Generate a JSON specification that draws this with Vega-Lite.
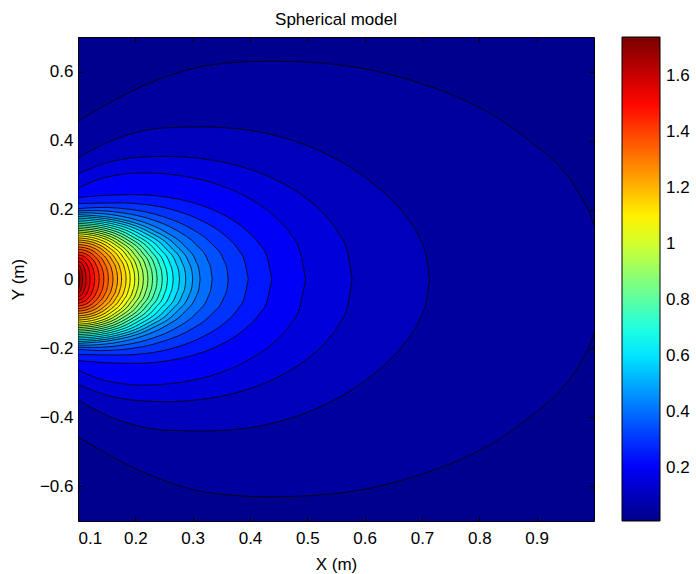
{
"$schema":"https://vega.github.io/schema/vega-lite/v6.json",
"width":516,"height":484,
"autosize":{"type":"none"},
"padding":{"left":78,"top":37,"right":102,"bottom":53},
"background":"white",
"title":{"text":"Spherical model","fontSize":17,"font":"Liberation Sans","fontWeight":"normal","color":"black","anchor":"middle","frame":"group","baseline":"bottom","offset":11,"dy":20},
"config":{
 "view":{"fill":"#00008F","stroke":null},
 "axis":{"labelFont":"Liberation Sans","labelFontSize":17,"labelColor":"black","titleFont":"Liberation Sans","titleFontSize":17,"titleFontWeight":"normal","titleColor":"black","tickColor":"black","tickWidth":1,"domainColor":"black","domainWidth":1,"grid":false,"zindex":1}
},
"data":{"values":[
{"L":0.05,"x":0.1,"hi":0.456,"lo":-0.456},{"L":0.05,"x":0.15,"hi":0.505,"lo":-0.505},{"L":0.05,"x":0.21,"hi":0.556,"lo":-0.556},{"L":0.05,"x":0.273,"hi":0.596,"lo":-0.596},{"L":0.05,"x":0.335,"hi":0.62,"lo":-0.62},{"L":0.05,"x":0.435,"hi":0.63,"lo":-0.63},{"L":0.05,"x":0.52,"hi":0.625,"lo":-0.625},{"L":0.05,"x":0.615,"hi":0.603,"lo":-0.603},{"L":0.05,"x":0.708,"hi":0.56,"lo":-0.56},{"L":0.05,"x":0.77,"hi":0.52,"lo":-0.52},{"L":0.05,"x":0.833,"hi":0.465,"lo":-0.465},{"L":0.05,"x":0.895,"hi":0.39,"lo":-0.39},{"L":0.05,"x":0.94,"hi":0.325,"lo":-0.325},{"L":0.05,"x":0.975,"hi":0.245,"lo":-0.245},{"L":0.05,"x":1.0,"hi":0.155,"lo":-0.155},{"L":0.05,"x":1.02,"hi":0,"lo":0},
{"L":0.1,"x":0.1,"hi":0.35,"lo":-0.35},{"L":0.1,"x":0.15,"hi":0.394,"lo":-0.394},{"L":0.1,"x":0.2,"hi":0.423,"lo":-0.423},{"L":0.1,"x":0.25,"hi":0.437,"lo":-0.437},{"L":0.1,"x":0.316,"hi":0.44,"lo":-0.44},{"L":0.1,"x":0.4,"hi":0.43,"lo":-0.43},{"L":0.1,"x":0.46,"hi":0.408,"lo":-0.408},{"L":0.1,"x":0.52,"hi":0.372,"lo":-0.372},{"L":0.1,"x":0.58,"hi":0.318,"lo":-0.318},{"L":0.1,"x":0.63,"hi":0.255,"lo":-0.255},{"L":0.1,"x":0.67,"hi":0.185,"lo":-0.185},{"L":0.1,"x":0.695,"hi":0.12,"lo":-0.12},{"L":0.1,"x":0.708,"hi":0.06,"lo":-0.06},{"L":0.1,"x":0.713,"hi":0,"lo":0},
{"L":0.15,"x":0.1,"hi":0.305,"lo":-0.305},{"L":0.15,"x":0.15,"hi":0.336,"lo":-0.336},{"L":0.15,"x":0.2,"hi":0.351,"lo":-0.351},{"L":0.15,"x":0.254,"hi":0.355,"lo":-0.355},{"L":0.15,"x":0.3,"hi":0.351,"lo":-0.351},{"L":0.15,"x":0.35,"hi":0.339,"lo":-0.339},{"L":0.15,"x":0.4,"hi":0.317,"lo":-0.317},{"L":0.15,"x":0.45,"hi":0.283,"lo":-0.283},{"L":0.15,"x":0.5,"hi":0.231,"lo":-0.231},{"L":0.15,"x":0.53,"hi":0.186,"lo":-0.186},{"L":0.15,"x":0.555,"hi":0.131,"lo":-0.131},{"L":0.15,"x":0.57,"hi":0.079,"lo":-0.079},{"L":0.15,"x":0.578,"hi":0,"lo":0},
{"L":0.2,"x":0.1,"hi":0.263,"lo":-0.263},{"L":0.2,"x":0.15,"hi":0.295,"lo":-0.295},{"L":0.2,"x":0.217,"hi":0.307,"lo":-0.307},{"L":0.2,"x":0.26,"hi":0.303,"lo":-0.303},{"L":0.2,"x":0.3,"hi":0.293,"lo":-0.293},{"L":0.2,"x":0.35,"hi":0.27,"lo":-0.27},{"L":0.2,"x":0.4,"hi":0.232,"lo":-0.232},{"L":0.2,"x":0.44,"hi":0.186,"lo":-0.186},{"L":0.2,"x":0.47,"hi":0.132,"lo":-0.132},{"L":0.2,"x":0.487,"hi":0.081,"lo":-0.081},{"L":0.2,"x":0.497,"hi":0,"lo":0},
{"L":0.25,"x":0.1,"hi":0.236,"lo":-0.236},{"L":0.25,"x":0.15,"hi":0.242,"lo":-0.242},{"L":0.25,"x":0.198,"hi":0.244,"lo":-0.244},{"L":0.25,"x":0.25,"hi":0.238,"lo":-0.238},{"L":0.25,"x":0.3,"hi":0.221,"lo":-0.221},{"L":0.25,"x":0.35,"hi":0.189,"lo":-0.189},{"L":0.25,"x":0.39,"hi":0.146,"lo":-0.146},{"L":0.25,"x":0.415,"hi":0.104,"lo":-0.104},{"L":0.25,"x":0.43,"hi":0.062,"lo":-0.062},{"L":0.25,"x":0.438,"hi":0,"lo":0},
{"L":0.3,"x":0.1,"hi":0.218,"lo":-0.218},{"L":0.3,"x":0.17,"hi":0.22,"lo":-0.22},{"L":0.3,"x":0.22,"hi":0.215,"lo":-0.215},{"L":0.3,"x":0.27,"hi":0.198,"lo":-0.198},{"L":0.3,"x":0.32,"hi":0.165,"lo":-0.165},{"L":0.3,"x":0.355,"hi":0.128,"lo":-0.128},{"L":0.3,"x":0.38,"hi":0.084,"lo":-0.084},{"L":0.3,"x":0.39,"hi":0.054,"lo":-0.054},{"L":0.3,"x":0.397,"hi":0,"lo":0},
{"L":0.35,"x":0.1,"hi":0.2035,"lo":-0.2035},{"L":0.35,"x":0.14,"hi":0.207,"lo":-0.207},{"L":0.35,"x":0.1975,"hi":0.2,"lo":-0.2},{"L":0.35,"x":0.251,"hi":0.179,"lo":-0.179},{"L":0.35,"x":0.297,"hi":0.146,"lo":-0.146},{"L":0.35,"x":0.332,"hi":0.1035,"lo":-0.1035},{"L":0.35,"x":0.3545,"hi":0.0536,"lo":-0.0536},{"L":0.35,"x":0.36,"hi":0.027,"lo":-0.027},{"L":0.35,"x":0.362,"hi":0,"lo":0},
{"L":0.4,"x":0.1,"hi":0.197,"lo":-0.197},{"L":0.4,"x":0.125,"hi":0.198,"lo":-0.198},{"L":0.4,"x":0.179,"hi":0.191,"lo":-0.191},{"L":0.4,"x":0.2295,"hi":0.1715,"lo":-0.1715},{"L":0.4,"x":0.2728,"hi":0.14,"lo":-0.14},{"L":0.4,"x":0.306,"hi":0.099,"lo":-0.099},{"L":0.4,"x":0.327,"hi":0.0513,"lo":-0.0513},{"L":0.4,"x":0.332,"hi":0.026,"lo":-0.026},{"L":0.4,"x":0.334,"hi":0,"lo":0},
{"L":0.45,"x":0.1,"hi":0.191,"lo":-0.191},{"L":0.45,"x":0.11,"hi":0.1915,"lo":-0.1915},{"L":0.45,"x":0.1626,"hi":0.185,"lo":-0.185},{"L":0.45,"x":0.2115,"hi":0.166,"lo":-0.166},{"L":0.45,"x":0.2535,"hi":0.1354,"lo":-0.1354},{"L":0.45,"x":0.2858,"hi":0.0958,"lo":-0.0958},{"L":0.45,"x":0.3061,"hi":0.0496,"lo":-0.0496},{"L":0.45,"x":0.3112,"hi":0.025,"lo":-0.025},{"L":0.45,"x":0.313,"hi":0,"lo":0},
{"L":0.5,"x":0.1,"hi":0.186,"lo":-0.186},{"L":0.5,"x":0.1684,"hi":0.1748,"lo":-0.1748},{"L":0.5,"x":0.2286,"hi":0.1425,"lo":-0.1425},{"L":0.5,"x":0.2732,"hi":0.093,"lo":-0.093},{"L":0.5,"x":0.2932,"hi":0.0482,"lo":-0.0482},{"L":0.5,"x":0.2989,"hi":0.0194,"lo":-0.0194},{"L":0.5,"x":0.3,"hi":0,"lo":0},
{"L":0.55,"x":0.1,"hi":0.181,"lo":-0.181},{"L":0.55,"x":0.1643,"hi":0.1701,"lo":-0.1701},{"L":0.55,"x":0.2209,"hi":0.1386,"lo":-0.1386},{"L":0.55,"x":0.2628,"hi":0.0905,"lo":-0.0905},{"L":0.55,"x":0.2816,"hi":0.0469,"lo":-0.0469},{"L":0.55,"x":0.287,"hi":0.0189,"lo":-0.0189},{"L":0.55,"x":0.288,"hi":0,"lo":0},
{"L":0.6,"x":0.1,"hi":0.176,"lo":-0.176},{"L":0.6,"x":0.1605,"hi":0.1654,"lo":-0.1654},{"L":0.6,"x":0.2138,"hi":0.1348,"lo":-0.1348},{"L":0.6,"x":0.2533,"hi":0.088,"lo":-0.088},{"L":0.6,"x":0.271,"hi":0.0456,"lo":-0.0456},{"L":0.6,"x":0.276,"hi":0.0184,"lo":-0.0184},{"L":0.6,"x":0.277,"hi":0,"lo":0},
{"L":0.65,"x":0.1,"hi":0.171,"lo":-0.171},{"L":0.65,"x":0.1568,"hi":0.1607,"lo":-0.1607},{"L":0.65,"x":0.2067,"hi":0.131,"lo":-0.131},{"L":0.65,"x":0.2438,"hi":0.0855,"lo":-0.0855},{"L":0.65,"x":0.2604,"hi":0.0443,"lo":-0.0443},{"L":0.65,"x":0.2651,"hi":0.0179,"lo":-0.0179},{"L":0.65,"x":0.266,"hi":0,"lo":0},
{"L":0.7,"x":0.1,"hi":0.166,"lo":-0.166},{"L":0.7,"x":0.1534,"hi":0.156,"lo":-0.156},{"L":0.7,"x":0.2003,"hi":0.1272,"lo":-0.1272},{"L":0.7,"x":0.2351,"hi":0.083,"lo":-0.083},{"L":0.7,"x":0.2507,"hi":0.043,"lo":-0.043},{"L":0.7,"x":0.2551,"hi":0.0173,"lo":-0.0173},{"L":0.7,"x":0.256,"hi":0,"lo":0},
{"L":0.75,"x":0.1,"hi":0.161,"lo":-0.161},{"L":0.75,"x":0.1503,"hi":0.1513,"lo":-0.1513},{"L":0.75,"x":0.1945,"hi":0.1233,"lo":-0.1233},{"L":0.75,"x":0.2273,"hi":0.0805,"lo":-0.0805},{"L":0.75,"x":0.242,"hi":0.0417,"lo":-0.0417},{"L":0.75,"x":0.2462,"hi":0.0168,"lo":-0.0168},{"L":0.75,"x":0.247,"hi":0,"lo":0},
{"L":0.8,"x":0.1,"hi":0.156,"lo":-0.156},{"L":0.8,"x":0.1472,"hi":0.1466,"lo":-0.1466},{"L":0.8,"x":0.1887,"hi":0.1195,"lo":-0.1195},{"L":0.8,"x":0.2195,"hi":0.078,"lo":-0.078},{"L":0.8,"x":0.2333,"hi":0.0404,"lo":-0.0404},{"L":0.8,"x":0.2372,"hi":0.0163,"lo":-0.0163},{"L":0.8,"x":0.238,"hi":0,"lo":0},
{"L":0.85,"x":0.1,"hi":0.151,"lo":-0.151},{"L":0.85,"x":0.1445,"hi":0.1419,"lo":-0.1419},{"L":0.85,"x":0.1836,"hi":0.1157,"lo":-0.1157},{"L":0.85,"x":0.2126,"hi":0.0755,"lo":-0.0755},{"L":0.85,"x":0.2256,"hi":0.0391,"lo":-0.0391},{"L":0.85,"x":0.2293,"hi":0.0158,"lo":-0.0158},{"L":0.85,"x":0.23,"hi":0,"lo":0},
{"L":0.9,"x":0.1,"hi":0.146,"lo":-0.146},{"L":0.9,"x":0.1417,"hi":0.1372,"lo":-0.1372},{"L":0.9,"x":0.1784,"hi":0.1118,"lo":-0.1118},{"L":0.9,"x":0.2057,"hi":0.073,"lo":-0.073},{"L":0.9,"x":0.2179,"hi":0.0378,"lo":-0.0378},{"L":0.9,"x":0.2213,"hi":0.0153,"lo":-0.0153},{"L":0.9,"x":0.222,"hi":0,"lo":0},
{"L":0.95,"x":0.1,"hi":0.141,"lo":-0.141},{"L":0.95,"x":0.139,"hi":0.1325,"lo":-0.1325},{"L":0.95,"x":0.1733,"hi":0.108,"lo":-0.108},{"L":0.95,"x":0.1987,"hi":0.0705,"lo":-0.0705},{"L":0.95,"x":0.2101,"hi":0.0365,"lo":-0.0365},{"L":0.95,"x":0.2134,"hi":0.0147,"lo":-0.0147},{"L":0.95,"x":0.214,"hi":0,"lo":0},
{"L":1.0,"x":0.1,"hi":0.136,"lo":-0.136},{"L":1.0,"x":0.1363,"hi":0.1278,"lo":-0.1278},{"L":1.0,"x":0.1682,"hi":0.1042,"lo":-0.1042},{"L":1.0,"x":0.1918,"hi":0.068,"lo":-0.068},{"L":1.0,"x":0.2024,"hi":0.0352,"lo":-0.0352},{"L":1.0,"x":0.2054,"hi":0.0142,"lo":-0.0142},{"L":1.0,"x":0.206,"hi":0,"lo":0},
{"L":1.05,"x":0.1,"hi":0.131,"lo":-0.131},{"L":1.05,"x":0.1339,"hi":0.1231,"lo":-0.1231},{"L":1.05,"x":0.1637,"hi":0.1003,"lo":-0.1003},{"L":1.05,"x":0.1857,"hi":0.0655,"lo":-0.0655},{"L":1.05,"x":0.1956,"hi":0.0339,"lo":-0.0339},{"L":1.05,"x":0.1985,"hi":0.0137,"lo":-0.0137},{"L":1.05,"x":0.199,"hi":0,"lo":0},
{"L":1.1,"x":0.1,"hi":0.125,"lo":-0.125},{"L":1.1,"x":0.1311,"hi":0.1175,"lo":-0.1175},{"L":1.1,"x":0.1585,"hi":0.0958,"lo":-0.0958},{"L":1.1,"x":0.1788,"hi":0.0625,"lo":-0.0625},{"L":1.1,"x":0.1879,"hi":0.0324,"lo":-0.0324},{"L":1.1,"x":0.1905,"hi":0.0131,"lo":-0.0131},{"L":1.1,"x":0.191,"hi":0,"lo":0},
{"L":1.15,"x":0.1,"hi":0.119,"lo":-0.119},{"L":1.15,"x":0.1287,"hi":0.1119,"lo":-0.1119},{"L":1.15,"x":0.154,"hi":0.0912,"lo":-0.0912},{"L":1.15,"x":0.1727,"hi":0.0595,"lo":-0.0595},{"L":1.15,"x":0.1811,"hi":0.0308,"lo":-0.0308},{"L":1.15,"x":0.1835,"hi":0.0124,"lo":-0.0124},{"L":1.15,"x":0.184,"hi":0,"lo":0},
{"L":1.2,"x":0.1,"hi":0.113,"lo":-0.113},{"L":1.2,"x":0.126,"hi":0.1062,"lo":-0.1062},{"L":1.2,"x":0.1489,"hi":0.0866,"lo":-0.0866},{"L":1.2,"x":0.1658,"hi":0.0565,"lo":-0.0565},{"L":1.2,"x":0.1734,"hi":0.0293,"lo":-0.0293},{"L":1.2,"x":0.1756,"hi":0.0118,"lo":-0.0118},{"L":1.2,"x":0.176,"hi":0,"lo":0},
{"L":1.25,"x":0.1,"hi":0.107,"lo":-0.107},{"L":1.25,"x":0.1236,"hi":0.1006,"lo":-0.1006},{"L":1.25,"x":0.1444,"hi":0.082,"lo":-0.082},{"L":1.25,"x":0.1598,"hi":0.0535,"lo":-0.0535},{"L":1.25,"x":0.1667,"hi":0.0277,"lo":-0.0277},{"L":1.25,"x":0.1686,"hi":0.0112,"lo":-0.0112},{"L":1.25,"x":0.169,"hi":0,"lo":0},
{"L":1.3,"x":0.1,"hi":0.1,"lo":-0.1},{"L":1.3,"x":0.1209,"hi":0.094,"lo":-0.094},{"L":1.3,"x":0.1392,"hi":0.0766,"lo":-0.0766},{"L":1.3,"x":0.1528,"hi":0.05,"lo":-0.05},{"L":1.3,"x":0.1589,"hi":0.0259,"lo":-0.0259},{"L":1.3,"x":0.1607,"hi":0.0105,"lo":-0.0105},{"L":1.3,"x":0.161,"hi":0,"lo":0},
{"L":1.35,"x":0.1,"hi":0.093,"lo":-0.093},{"L":1.35,"x":0.1181,"hi":0.0874,"lo":-0.0874},{"L":1.35,"x":0.1341,"hi":0.0712,"lo":-0.0712},{"L":1.35,"x":0.1459,"hi":0.0465,"lo":-0.0465},{"L":1.35,"x":0.1512,"hi":0.0241,"lo":-0.0241},{"L":1.35,"x":0.1527,"hi":0.0097,"lo":-0.0097},{"L":1.35,"x":0.153,"hi":0,"lo":0},
{"L":1.4,"x":0.1,"hi":0.086,"lo":-0.086},{"L":1.4,"x":0.1154,"hi":0.0808,"lo":-0.0808},{"L":1.4,"x":0.1289,"hi":0.0659,"lo":-0.0659},{"L":1.4,"x":0.139,"hi":0.043,"lo":-0.043},{"L":1.4,"x":0.1435,"hi":0.0223,"lo":-0.0223},{"L":1.4,"x":0.1448,"hi":0.009,"lo":-0.009},{"L":1.4,"x":0.145,"hi":0,"lo":0},
{"L":1.45,"x":0.1,"hi":0.078,"lo":-0.078},{"L":1.45,"x":0.1127,"hi":0.0733,"lo":-0.0733},{"L":1.45,"x":0.1238,"hi":0.0597,"lo":-0.0597},{"L":1.45,"x":0.132,"hi":0.039,"lo":-0.039},{"L":1.45,"x":0.1357,"hi":0.0202,"lo":-0.0202},{"L":1.45,"x":0.1368,"hi":0.0082,"lo":-0.0082},{"L":1.45,"x":0.137,"hi":0,"lo":0},
{"L":1.5,"x":0.1,"hi":0.07,"lo":-0.07},{"L":1.5,"x":0.1099,"hi":0.0658,"lo":-0.0658},{"L":1.5,"x":0.1186,"hi":0.0536,"lo":-0.0536},{"L":1.5,"x":0.1251,"hi":0.035,"lo":-0.035},{"L":1.5,"x":0.128,"hi":0.0181,"lo":-0.0181},{"L":1.5,"x":0.1288,"hi":0.0073,"lo":-0.0073},{"L":1.5,"x":0.129,"hi":0,"lo":0},
{"L":1.55,"x":0.1,"hi":0.061,"lo":-0.061},{"L":1.55,"x":0.1072,"hi":0.0573,"lo":-0.0573},{"L":1.55,"x":0.1135,"hi":0.0467,"lo":-0.0467},{"L":1.55,"x":0.1182,"hi":0.0305,"lo":-0.0305},{"L":1.55,"x":0.1203,"hi":0.0158,"lo":-0.0158},{"L":1.55,"x":0.1209,"hi":0.0064,"lo":-0.0064},{"L":1.55,"x":0.121,"hi":0,"lo":0},
{"L":1.6,"x":0.1,"hi":0.051,"lo":-0.051},{"L":1.6,"x":0.1048,"hi":0.0479,"lo":-0.0479},{"L":1.6,"x":0.109,"hi":0.0391,"lo":-0.0391},{"L":1.6,"x":0.1121,"hi":0.0255,"lo":-0.0255},{"L":1.6,"x":0.1135,"hi":0.0132,"lo":-0.0132},{"L":1.6,"x":0.1139,"hi":0.0053,"lo":-0.0053},{"L":1.6,"x":0.114,"hi":0,"lo":0},
{"L":1.65,"x":0.1,"hi":0.04,"lo":-0.04},{"L":1.65,"x":0.1027,"hi":0.0376,"lo":-0.0376},{"L":1.65,"x":0.1051,"hi":0.0306,"lo":-0.0306},{"L":1.65,"x":0.1069,"hi":0.02,"lo":-0.02},{"L":1.65,"x":0.1077,"hi":0.0104,"lo":-0.0104},{"L":1.65,"x":0.108,"hi":0,"lo":0},
{"L":1.7,"x":0.1,"hi":0.027,"lo":-0.027},{"L":1.7,"x":0.101,"hi":0.0254,"lo":-0.0254},{"L":1.7,"x":0.1019,"hi":0.0207,"lo":-0.0207},{"L":1.7,"x":0.1026,"hi":0.0135,"lo":-0.0135},{"L":1.7,"x":0.1029,"hi":0.007,"lo":-0.007},{"L":1.7,"x":0.103,"hi":0,"lo":0}
]},
"layer":[
 {"mark":{"type":"area","clip":true,"interpolate":"monotone","stroke":"black","strokeWidth":0.8},
  "encoding":{
   "x":{"field":"x","type":"quantitative","scale":{"domain":[0.1,1.0],"nice":false,"zero":false},
        "axis":{"orient":"bottom","values":[0.1,0.2,0.3,0.4,0.5,0.6,0.7,0.8,0.9],"format":"~g","tickSize":-5,"labelPadding":14,"title":"X (m)","titlePadding":10}},
   "y":{"field":"hi","type":"quantitative","stack":null,"scale":{"domain":[-0.7,0.7],"nice":false,"zero":false},
        "axis":{"orient":"left","values":[-0.6,-0.4,-0.2,0,0.2,0.4,0.6],"format":"~g","tickSize":-5,"labelPadding":10,"title":"Y (m)","titlePadding":12}},
   "y2":{"field":"lo"},
   "color":{"field":"L","type":"quantitative",
     "scale":{"domain":[0.0107,0.2135,0.646,1.0786,1.5112,1.741],"range":["#000088","#0000ff","#00ffff","#ffff00","#ff0000","#780000"],"interpolate":"rgb"},
     "legend":{"orient":"none","legendX":544,"legendY":0,"direction":"vertical","gradientLength":484,"gradientThickness":38,"gradientStrokeColor":"black","gradientStrokeWidth":1,"values":[0.2,0.4,0.6,0.8,1,1.2,1.4,1.6],"format":"~g","labelFont":"Liberation Sans","labelFontSize":17,"labelColor":"black","labelOffset":6,"labelOverlap":false,"title":null,"padding":0}}
  }},
 {"mark":{"type":"point","opacity":0},
  "encoding":{
   "x":{"field":"x","type":"quantitative","axis":{"orient":"top","values":[0.1,0.2,0.3,0.4,0.5,0.6,0.7,0.8,0.9],"labels":false,"tickSize":-5,"title":null}},
   "y":{"field":"hi","type":"quantitative","axis":{"orient":"right","values":[-0.6,-0.4,-0.2,0,0.2,0.4,0.6],"labels":false,"tickSize":-5,"title":null}}
  }}
],
"resolve":{"axis":{"x":"independent","y":"independent"}}
}
